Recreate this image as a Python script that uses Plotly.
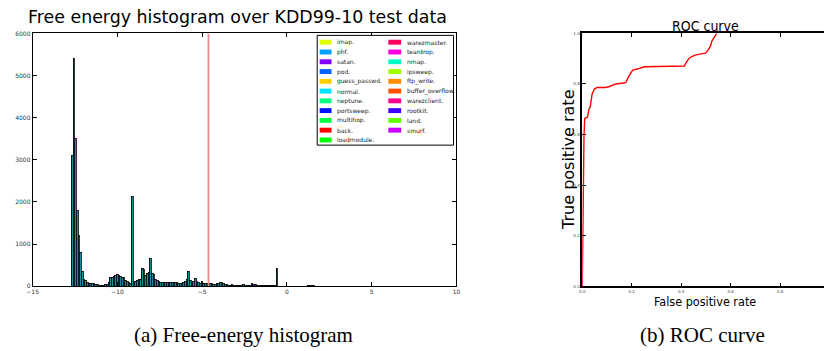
import numpy as np
import plotly.graph_objects as go

W, H = 828, 351

# ---------------- data ----------------
hist_title = "Free energy histogram over KDD99-10 test data"
bin_start = -12.69
bin_width = 0.098
normal_counts = [
    3100, 5400, 3500, 1800, 1200, 800, 350, 170, 150, 100,
    70, 70, 60, 60, 50, 40, 20, 10, 20, 30,
    40, 50, 80, 210, 220, 230, 260, 270, 250, 230,
    220, 200, 150, 120, 80, 60,
    2130,
    100, 110, 150, 170, 170, 430, 400, 250, 310, 340,
    670,
    300, 280, 160, 130, 110, 100, 100, 80, 90, 90, 90, 90, 90, 90, 100, 90, 70, 60, 60, 80, 110, 170,
    350,
    150, 100, 110, 180, 110, 80, 60, 110, 60, 60, 60, 60, 60, 60, 50, 50, 60, 70, 100, 80,
    60, 40, 40, 30, 20, 40, 30, 20, 30, 20, 20, 20, 50, 20, 20, 20, 30, 60, 20, 20,
    20, 20, 10, 10, 10, 20, 20, 20, 10, 20, 10, 10,
    420,
    5, 5, 3, 3, 5, 2, 2, 2, 2, 2, 2, 2, 2, 2, 2, 2, 2, 2,
    15, 20, 20, 15,
    2, 1, 1, 2, 1, 1, 1, 1, 1, 1, 1, 1, 1, 1, 1, 1, 1, 1, 1, 5,
    1, 1, 1, 1, 1, 1, 1, 1, 1, 1, 1, 1, 1, 1, 1, 1, 1, 1, 1, 1,
    1, 1, 1, 1, 1, 1, 1, 1, 1, 1, 1, 1, 1, 1, 1,
]
satan_bins = [109, 110, 111]
satan_counts = [40, 40, 20]
threshold = -4.63

legend_col1 = ["imap.", "phf.", "satan.", "pod.", "guess_passwd.", "normal.",
               "neptune.", "portsweep.", "multihop.", "back.", "loadmodule."]
legend_col1_colors = ["#e0ff00", "#00a0ff", "#8000ff", "#0060ff", "#ffcc00", "#00e0ff",
                      "#00ff80", "#0010ff", "#00ff40", "#ff0000", "#00ff00"]
legend_col2 = ["warezmaster.", "teardrop.", "nmap.", "ipsweep.", "ftp_write.",
               "buffer_overflow.", "warezclient.", "rootkit.", "land.", "smurf."]
legend_col2_colors = ["#ff0060", "#ff00e0", "#00ffc8", "#a0ff00", "#ff8c00",
                      "#ff5000", "#ff0090", "#4000ff", "#60ff00", "#cc00ff"]

hist_xticks = [-15, -10, -5, 0, 5, 10]
hist_yticks = [0, 1000, 2000, 3000, 4000, 5000, 6000]

roc_fpr = [0.0, 0.002, 0.007, 0.010, 0.021, 0.027, 0.032, 0.040, 0.049, 0.060, 0.093, 0.107,
           0.117, 0.136, 0.166, 0.176, 0.189, 0.204, 0.226, 0.250, 0.413, 0.419, 0.433, 0.453,
           0.479, 0.499, 0.509, 0.519, 0.523, 0.530, 0.536, 0.543]
roc_tpr = [0.0, 0.22, 0.593, 0.664, 0.668, 0.700, 0.709, 0.761, 0.780, 0.786, 0.786, 0.789,
           0.793, 0.800, 0.804, 0.806, 0.832, 0.855, 0.860, 0.868, 0.871, 0.884, 0.903, 0.913,
           0.919, 0.922, 0.935, 0.952, 0.968, 0.980, 0.991, 1.0]
roc_ticks = [0.0, 0.2, 0.4, 0.6, 0.8, 1.0]

caption_a = "(a) Free-energy histogram"
caption_b = "(b) ROC curve"

# ---------------- helpers ----------------
def px(x):
    return x / W

def py(y):
    return 1 - y / H

centers = [bin_start + bin_width * (i + 0.5) for i in range(len(normal_counts))]
normal_plot = list(normal_counts)
for b, c in zip(satan_bins, satan_counts):
    normal_plot[b] = max(normal_plot[b] - c, 0)

fig = go.Figure()
fig.add_trace(go.Bar(x=centers, y=normal_plot, width=bin_width,
                     marker=dict(color="#168c9c", line=dict(color="#000000", width=0.8)),
                     xaxis="x", yaxis="y", showlegend=False))
fig.add_trace(go.Bar(x=[centers[b] for b in satan_bins], y=satan_counts, width=bin_width,
                     marker=dict(color="#4a1a90", line=dict(color="#000000", width=0.8)),
                     xaxis="x", yaxis="y", showlegend=False))
fig.add_trace(go.Scatter(x=[threshold, threshold], y=[0, 6000], mode="lines",
                         line=dict(color="#f28a8a", width=1.8),
                         xaxis="x", yaxis="y", showlegend=False))
fig.add_trace(go.Scatter(x=roc_fpr, y=roc_tpr, mode="lines",
                         line=dict(color="#ff0000", width=1.4),
                         xaxis="x2", yaxis="y2", showlegend=False))

tickfont_a = dict(family="DejaVu Sans", size=6, color="#333")
tickfont_b = dict(family="DejaVu Sans", size=4, color="#444")

fig.update_layout(
    width=W, height=H,
    margin=dict(l=0, r=0, t=0, b=0),
    paper_bgcolor="white", plot_bgcolor="white",
    barmode="stack", bargap=0,
    xaxis=dict(domain=[px(27), px(456)], range=[-15, 10], tickvals=hist_xticks,
               ticks="inside", ticklen=4, tickcolor="black", mirror="allticks",
               showline=True, linecolor="black", linewidth=1, showgrid=False,
               zeroline=False, tickfont=tickfont_a, anchor="y"),
    yaxis=dict(domain=[py(288), py(30)], range=[0, 6000], tickvals=hist_yticks,
               ticks="inside", ticklen=4, tickcolor="black", mirror="allticks",
               showline=True, linecolor="black", linewidth=1, showgrid=False,
               zeroline=False, tickfont=tickfont_a, anchor="x"),
    xaxis2=dict(domain=[px(583.3), 1.0], range=[0, (W - 583.3) / 250.5], tickvals=roc_ticks,
                tickformat=".1f", ticks="inside", ticklen=4, tickcolor="black",
                mirror="ticks", showline=True, linecolor="black", linewidth=1.5,
                showgrid=False, zeroline=False, tickfont=tickfont_b, anchor="y2"),
    yaxis2=dict(domain=[py(288), py(30)], range=[0, 1.0], tickvals=roc_ticks,
                tickformat=".1f", ticks="inside", ticklen=4, tickcolor="black",
                showline=True, linecolor="black", linewidth=1.5, showgrid=False,
                zeroline=False, tickfont=tickfont_b, anchor="x2"),
)

shapes = []
annotations = []

# legend box
shapes.append(dict(type="rect", xref="paper", yref="paper",
                   x0=px(315), x1=px(453), y0=py(144), y1=py(32),
                   line=dict(color="black", width=1), fillcolor="white", layer="above"))
row0, row_step = 39.0, 9.97
for cols, colors, sx0, sx1, tx in [(legend_col1, legend_col1_colors, 317.5, 329.5, 333),
                                    (legend_col2, legend_col2_colors, 387, 400, 404)]:
    for k, (name, col) in enumerate(zip(cols, colors)):
        yc = row0 + row_step * k
        shapes.append(dict(type="rect", xref="paper", yref="paper",
                           x0=px(sx0), x1=px(sx1), y0=py(yc + 2.5), y1=py(yc - 2.5),
                           line=dict(width=0), fillcolor=col, layer="above"))
        annotations.append(dict(text=name, xref="paper", yref="paper", x=px(tx), y=py(yc),
                                xanchor="left", yanchor="middle", showarrow=False,
                                font=dict(family="DejaVu Sans", size=6, color="#222")))

# titles and labels
annotations.append(dict(text=hist_title, xref="paper", yref="paper", x=px(234), y=py(13),
                        xanchor="center", yanchor="middle", showarrow=False,
                        font=dict(family="DejaVu Sans", size=17.4, color="black")))
cond = "DejaVu Sans Condensed, Liberation Sans Narrow, DejaVu Sans"
annotations.append(dict(text="ROC curve", xref="paper", yref="paper", x=px(708.5), y=py(22),
                        xanchor="center", yanchor="middle", showarrow=False,
                        font=dict(family=cond, size=14, color="black")))
annotations.append(dict(text="False positive rate", xref="paper", yref="paper", x=px(708), y=py(304),
                        xanchor="center", yanchor="middle", showarrow=False,
                        font=dict(family=cond, size=12.5, color="black")))
annotations.append(dict(text="True positive rate", xref="paper", yref="paper", x=px(570), y=py(159),
                        xanchor="center", yanchor="middle", showarrow=False, textangle=-90,
                        font=dict(family="DejaVu Sans", size=16, color="black")))
annotations.append(dict(text=caption_a, xref="paper", yref="paper", x=px(240), y=py(338),
                        xanchor="center", yanchor="middle", showarrow=False,
                        font=dict(family="Liberation Serif", size=21, color="black")))
annotations.append(dict(text=caption_b, xref="paper", yref="paper", x=px(705), y=py(338),
                        xanchor="center", yanchor="middle", showarrow=False,
                        font=dict(family="Liberation Serif", size=21, color="black")))

fig.update_layout(shapes=shapes, annotations=annotations)
fig.write_html("out.html")
